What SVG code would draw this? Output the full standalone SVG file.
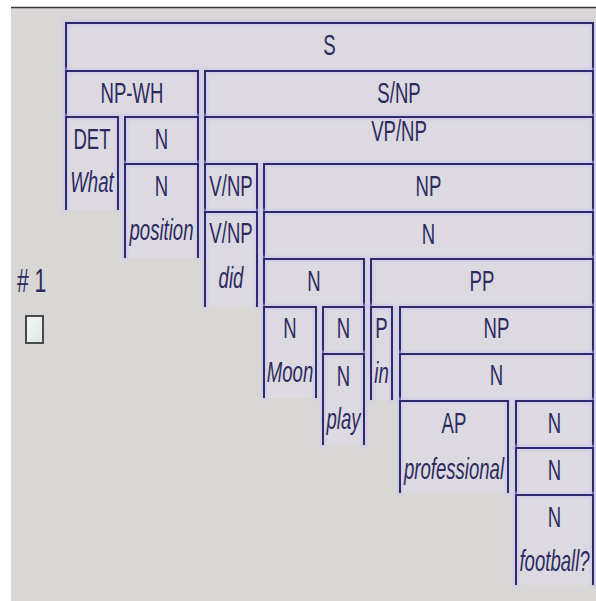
<svg xmlns="http://www.w3.org/2000/svg" width="596" height="601" viewBox="0 0 596 601">
<defs>
<filter id="halo" filterUnits="userSpaceOnUse" x="0" y="0" width="596" height="601">
<feMorphology in="SourceAlpha" operator="dilate" radius="2" result="d"/>
<feGaussianBlur in="d" stdDeviation="1" result="b"/>
<feFlood flood-color="#c8c4f0" flood-opacity="0.55"/>
<feComposite in2="b" operator="in" result="h"/>
<feMerge><feMergeNode in="h"/><feMergeNode in="SourceGraphic"/></feMerge>
</filter>
<linearGradient id="cb" x1="0" y1="0" x2="1" y2="1">
<stop offset="0" stop-color="#f4f8f7"/>
<stop offset="1" stop-color="#dce8e5"/>
</linearGradient>
</defs>
<style>
.bg{fill:#d9d6d6}
.fill{fill:#dcd9e0}
.edge{fill:none;stroke:#2e2b6e;stroke-width:2;filter:url(#halo)}
.lab{font-family:"Liberation Sans",Arial,sans-serif;font-size:29px;fill:#2c2b60;text-anchor:middle}
.word{font-family:"Liberation Sans",Arial,sans-serif;font-size:29px;font-style:italic;fill:#2c2b60;text-anchor:middle}
.num{font-family:"Liberation Sans",Arial,sans-serif;font-size:33px;fill:#2c2b60}
</style>
<rect width="596" height="601" fill="#ffffff"/>
<rect class="bg" x="11" y="8" width="585" height="593"/>
<line x1="11" y1="7.5" x2="596" y2="7.5" stroke="#3a3a3a" stroke-width="1.5"/>

<g id="label-num">
<text class="num" transform="translate(17,292) scale(0.64,1)">#&#160;1</text>
<rect x="26" y="316" width="17" height="27" fill="url(#cb)" stroke="#4a4a4a" stroke-width="2"/>
</g>

<g id="n-S">
<rect class="fill" x="66" y="23" width="527" height="48"/>
<rect class="fill" x="198" y="71" width="7" height="187"/>
<path class="edge" d="M66,71 V23 H593 V71"/>
<text class="lab" transform="translate(329.5,55) scale(0.64,1)">S</text>
</g>
<g id="n-NPWH">
<rect class="fill" x="66" y="71" width="132" height="46"/>
<rect class="fill" x="118" y="117" width="7" height="93"/>
<path class="edge" d="M66,117 V71 H198 V117"/>
<text class="lab" transform="translate(132,103) scale(0.64,1)">NP-WH</text>
</g>
<g id="n-DET">
<rect class="fill" x="66" y="117" width="52" height="93"/>
<path class="edge" d="M66,210 V117 H118 V210"/>
<text class="lab" transform="translate(92,149) scale(0.64,1)">DET</text>
<text class="word" transform="translate(92,192) scale(0.64,1)">What</text>
</g>
<g id="n-N1">
<rect class="fill" x="125" y="117" width="73" height="47"/>
<path class="edge" d="M125,164 V117 H198 V164"/>
<text class="lab" transform="translate(161.5,149) scale(0.64,1)">N</text>
</g>
<g id="n-N2">
<rect class="fill" x="125" y="164" width="73" height="94"/>
<path class="edge" d="M125,258 V164 H198 V258"/>
<text class="lab" transform="translate(161.5,196) scale(0.64,1)">N</text>
<text class="word" transform="translate(161.5,240) scale(0.64,1)">position</text>
</g>
<g id="n-SNP">
<rect class="fill" x="205" y="71" width="388" height="46"/>
<path class="edge" d="M205,117 V71 H593 V117"/>
<text class="lab" transform="translate(399,103) scale(0.64,1)">S/NP</text>
</g>
<g id="n-VPNP">
<rect class="fill" x="205" y="117" width="388" height="47"/>
<rect class="fill" x="257" y="164" width="7" height="143"/>
<path class="edge" d="M205,164 V117 H593 V164"/>
<text class="lab" transform="translate(399,141) scale(0.64,1)">VP/NP</text>
</g>
<g id="n-VNP1">
<rect class="fill" x="205" y="164" width="52" height="48"/>
<path class="edge" d="M205,212 V164 H257 V212"/>
<text class="lab" transform="translate(231,196) scale(0.64,1)">V/NP</text>
</g>
<g id="n-VNP2">
<rect class="fill" x="205" y="212" width="52" height="95"/>
<path class="edge" d="M205,307 V212 H257 V307"/>
<text class="lab" transform="translate(231,243) scale(0.64,1)">V/NP</text>
<text class="word" transform="translate(231,288) scale(0.64,1)">did</text>
</g>
<g id="n-NP1">
<rect class="fill" x="264" y="164" width="329" height="48"/>
<path class="edge" d="M264,212 V164 H593 V212"/>
<text class="lab" transform="translate(428.5,196) scale(0.64,1)">NP</text>
</g>
<g id="n-N3">
<rect class="fill" x="264" y="212" width="329" height="47"/>
<rect class="fill" x="364" y="259" width="7" height="141"/>
<path class="edge" d="M264,259 V212 H593 V259"/>
<text class="lab" transform="translate(428.5,244) scale(0.64,1)">N</text>
</g>
<g id="n-N4">
<rect class="fill" x="264" y="259" width="100" height="48"/>
<rect class="fill" x="316" y="307" width="7" height="91"/>
<path class="edge" d="M264,307 V259 H364 V307"/>
<text class="lab" transform="translate(314,291) scale(0.64,1)">N</text>
</g>
<g id="n-NMoon">
<rect class="fill" x="264" y="307" width="52" height="91"/>
<path class="edge" d="M264,398 V307 H316 V398"/>
<text class="lab" transform="translate(290,338) scale(0.64,1)">N</text>
<text class="word" transform="translate(290,382) scale(0.64,1)">Moon</text>
</g>
<g id="n-N5">
<rect class="fill" x="323" y="307" width="41" height="47"/>
<path class="edge" d="M323,354 V307 H364 V354"/>
<text class="lab" transform="translate(343.5,338) scale(0.64,1)">N</text>
</g>
<g id="n-Nplay">
<rect class="fill" x="323" y="354" width="41" height="91"/>
<path class="edge" d="M323,445 V354 H364 V445"/>
<text class="lab" transform="translate(343.5,386) scale(0.64,1)">N</text>
<text class="word" transform="translate(343.5,429) scale(0.64,1)">play</text>
</g>
<g id="n-PP">
<rect class="fill" x="371" y="259" width="222" height="48"/>
<rect class="fill" x="392" y="307" width="8" height="93"/>
<path class="edge" d="M371,307 V259 H593 V307"/>
<text class="lab" transform="translate(482,291) scale(0.64,1)">PP</text>
</g>
<g id="n-Pin">
<rect class="fill" x="371" y="307" width="21" height="93"/>
<path class="edge" d="M371,400 V307 H392 V400"/>
<text class="lab" transform="translate(381.5,338) scale(0.64,1)">P</text>
<text class="word" transform="translate(381.5,383) scale(0.64,1)">in</text>
</g>
<g id="n-NP2">
<rect class="fill" x="400" y="307" width="193" height="47"/>
<path class="edge" d="M400,354 V307 H593 V354"/>
<text class="lab" transform="translate(496.5,338) scale(0.64,1)">NP</text>
</g>
<g id="n-N6">
<rect class="fill" x="400" y="354" width="193" height="47"/>
<rect class="fill" x="508" y="401" width="8" height="92"/>
<path class="edge" d="M400,401 V354 H593 V401"/>
<text class="lab" transform="translate(496.5,385) scale(0.64,1)">N</text>
</g>
<g id="n-AP">
<rect class="fill" x="400" y="401" width="108" height="92"/>
<path class="edge" d="M400,493 V401 H508 V493"/>
<text class="lab" transform="translate(454,433) scale(0.64,1)">AP</text>
<text class="word" transform="translate(454,479) scale(0.64,1)">professional</text>
</g>
<g id="n-N7">
<rect class="fill" x="516" y="401" width="77" height="47"/>
<path class="edge" d="M516,448 V401 H593 V448"/>
<text class="lab" transform="translate(554.5,433) scale(0.64,1)">N</text>
</g>
<g id="n-N8">
<rect class="fill" x="516" y="448" width="77" height="47"/>
<path class="edge" d="M516,495 V448 H593 V495"/>
<text class="lab" transform="translate(554.5,480) scale(0.64,1)">N</text>
</g>
<g id="n-Nfootball">
<rect class="fill" x="516" y="495" width="77" height="90"/>
<path class="edge" d="M516,585 V495 H593 V585"/>
<text class="lab" transform="translate(554.5,527) scale(0.64,1)">N</text>
<text class="word" transform="translate(554.5,571) scale(0.64,1)">football?</text>
</g>
</svg>
